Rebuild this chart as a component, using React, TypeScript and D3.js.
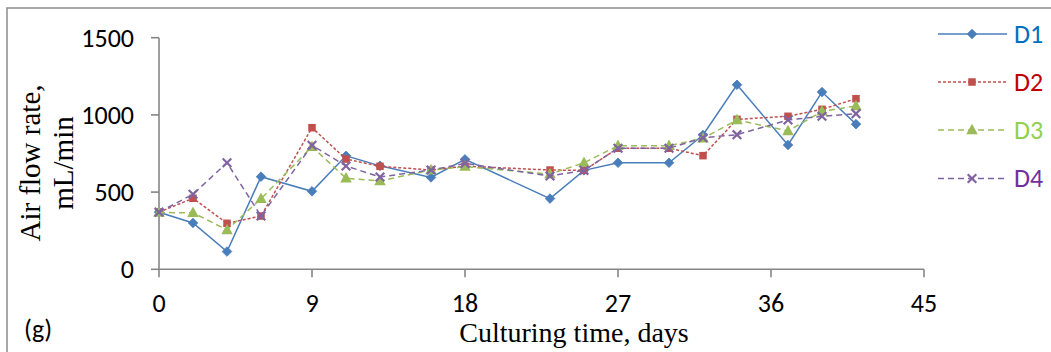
import React from "react";
import * as d3ns from "d3";

const d3: any = (d3ns as any).scaleLinear ? d3ns : (d3ns as any).default;

const days = [0, 2, 4, 6, 9, 11, 13, 16, 18, 23, 25, 27, 30, 32, 34, 37, 39, 41];
const d1 = [370, 300, 115, 600, 505, 735, 670, 595, 712, 458, 641, 690, 690, 870, 1195, 805, 1148, 940];
const d2 = [370, 460, 298, 345, 917, 714, 667, 643, 668, 643, 641, 784, 784, 736, 971, 991, 1036, 1105];
const d3v = [368, 366, 255, 457, 794, 590, 572, 643, 665, 617, 690, 800, 800, 848, 967, 896, 1023, 1058];
const d4 = [370, 486, 690, 345, 803, 669, 598, 643, 686, 604, 641, 784, 784, 852, 872, 967, 991, 1008];
const seriesNames = ["D1", "D2", "D3", "D4"];
const xTicks = [0, 9, 18, 27, 36, 45];
const yTicks = [0, 500, 1000, 1500];

const W = 1051;
const H = 352;

const tickFont = "Carlito, Calibri, Lato, 'Open Sans', sans-serif";
const serif = "'Liberation Serif', 'Times New Roman', serif";
const axisColor = "#868686";

type S = {
  name: string;
  values: number[];
  color: string;
  textColor: string;
  dash: string | undefined;
  marker: "diamond" | "square" | "triangle" | "x";
};

const series: S[] = [
  { name: seriesNames[0], values: d1, color: "#4A7EBB", textColor: "#0070C0", dash: undefined, marker: "diamond" },
  { name: seriesNames[1], values: d2, color: "#C0504D", textColor: "#C00000", dash: "3 2", marker: "square" },
  { name: seriesNames[2], values: d3v, color: "#9BBB59", textColor: "#92D050", dash: "6 4", marker: "triangle" },
  { name: seriesNames[3], values: d4, color: "#8064A2", textColor: "#7030A0", dash: "6 4", marker: "x" },
];

function Marker({ kind, cx, cy, color }: { kind: S["marker"]; cx: number; cy: number; color: string }) {
  if (kind === "diamond") {
    const r = 4.8;
    return <path d={`M${cx},${cy - r}L${cx + r},${cy}L${cx},${cy + r}L${cx - r},${cy}Z`} fill={color} stroke={color} strokeWidth={0.8} />;
  }
  if (kind === "square") {
    const s = 7.5;
    return <rect x={cx - s / 2} y={cy - s / 2} width={s} height={s} fill={color} />;
  }
  if (kind === "triangle") {
    const w = 11.5, h = 10.5;
    return <path d={`M${cx},${cy - h * 0.6}L${cx + w / 2},${cy + h * 0.4}L${cx - w / 2},${cy + h * 0.4}Z`} fill={color} />;
  }
  const r = 4.3;
  return (
    <path d={`M${cx - r},${cy - r}L${cx + r},${cy + r}M${cx - r},${cy + r}L${cx + r},${cy - r}`} stroke={color} strokeWidth={2.2} fill="none" />
  );
}

export default function App() {
  const x = d3.scaleLinear().domain([0, 45]).range([159, 924]);
  const y = d3.scaleLinear().domain([0, 1500]).range([269.3, 37.7]);
  const line = d3
    .line()
    .x((_: number, i: number) => x(days[i]))
    .y((v: number) => y(v));

  const legendY = [34, 82, 130, 178.5];

  return (
    <svg
      width={W}
      height={H}
      style={{ position: "absolute", left: 0, top: 0, background: "#fff" }}
    >
      <rect x={0} y={0} width={W} height={H} fill="#fff" />
      <rect x={7} y={8} width={W + 20} height={H + 20} fill="none" stroke="#8c8c8c" strokeWidth={1.5} />

      <line x1={x(0)} x2={x(45)} y1={y(0)} y2={y(0)} stroke={axisColor} strokeWidth={1.6} />
      <line x1={x(0)} x2={x(0)} y1={y(0)} y2={y(1500)} stroke={axisColor} strokeWidth={1.6} />
      {yTicks.map((t) => (
        <g key={"y" + t}>
          <line x1={x(0) - 8} x2={x(0)} y1={y(t)} y2={y(t)} stroke={axisColor} strokeWidth={1.6} />
          <text x={134} y={y(t)} dy="0.34em" textAnchor="end" fontFamily={tickFont} fontSize={26} fill="#000">
            {t}
          </text>
        </g>
      ))}
      {xTicks.map((t) => (
        <g key={"x" + t}>
          <line x1={x(t)} x2={x(t)} y1={y(0)} y2={y(0) + 8} stroke={axisColor} strokeWidth={1.6} />
          <text x={x(t)} y={312} textAnchor="middle" fontFamily={tickFont} fontSize={26} fill="#000">
            {t}
          </text>
        </g>
      ))}

      <text x={574} y={342} textAnchor="middle" fontFamily={serif} fontSize={28} fill="#000">
        Culturing time, days
      </text>
      <g transform={`translate(40,163) rotate(-90)`}>
        <text x={0} y={0} textAnchor="middle" fontFamily={serif} fontSize={29} fill="#000">
          Air flow rate,
        </text>
      </g>
      <g transform={`translate(73,163) rotate(-90)`}>
        <text x={0} y={0} textAnchor="middle" fontFamily={serif} fontSize={29} fill="#000">
          mL/min
        </text>
      </g>
      <text x={24} y={338} fontFamily={tickFont} fontSize={26} fill="#000">
        (g)
      </text>

      {series.map((s) => (
        <g key={s.name}>
          <path d={line(s.values) || ""} fill="none" stroke={s.color} strokeWidth={1.5} strokeDasharray={s.dash} />
          {s.values.map((v, i) => (
            <Marker key={i} kind={s.marker} cx={x(days[i])} cy={y(v)} color={s.color} />
          ))}
        </g>
      ))}

      {series.map((s, i) => (
        <g key={"lg" + s.name}>
          <line x1={938} x2={1007} y1={legendY[i]} y2={legendY[i]} stroke={s.color} strokeWidth={1.5} strokeDasharray={s.dash} />
          <Marker kind={s.marker} cx={972} cy={legendY[i]} color={s.color} />
          <text x={1014} y={legendY[i]} dy="0.34em" fontFamily={tickFont} fontSize={26} fill={s.textColor}>
            {s.name}
          </text>
        </g>
      ))}
    </svg>
  );
}
